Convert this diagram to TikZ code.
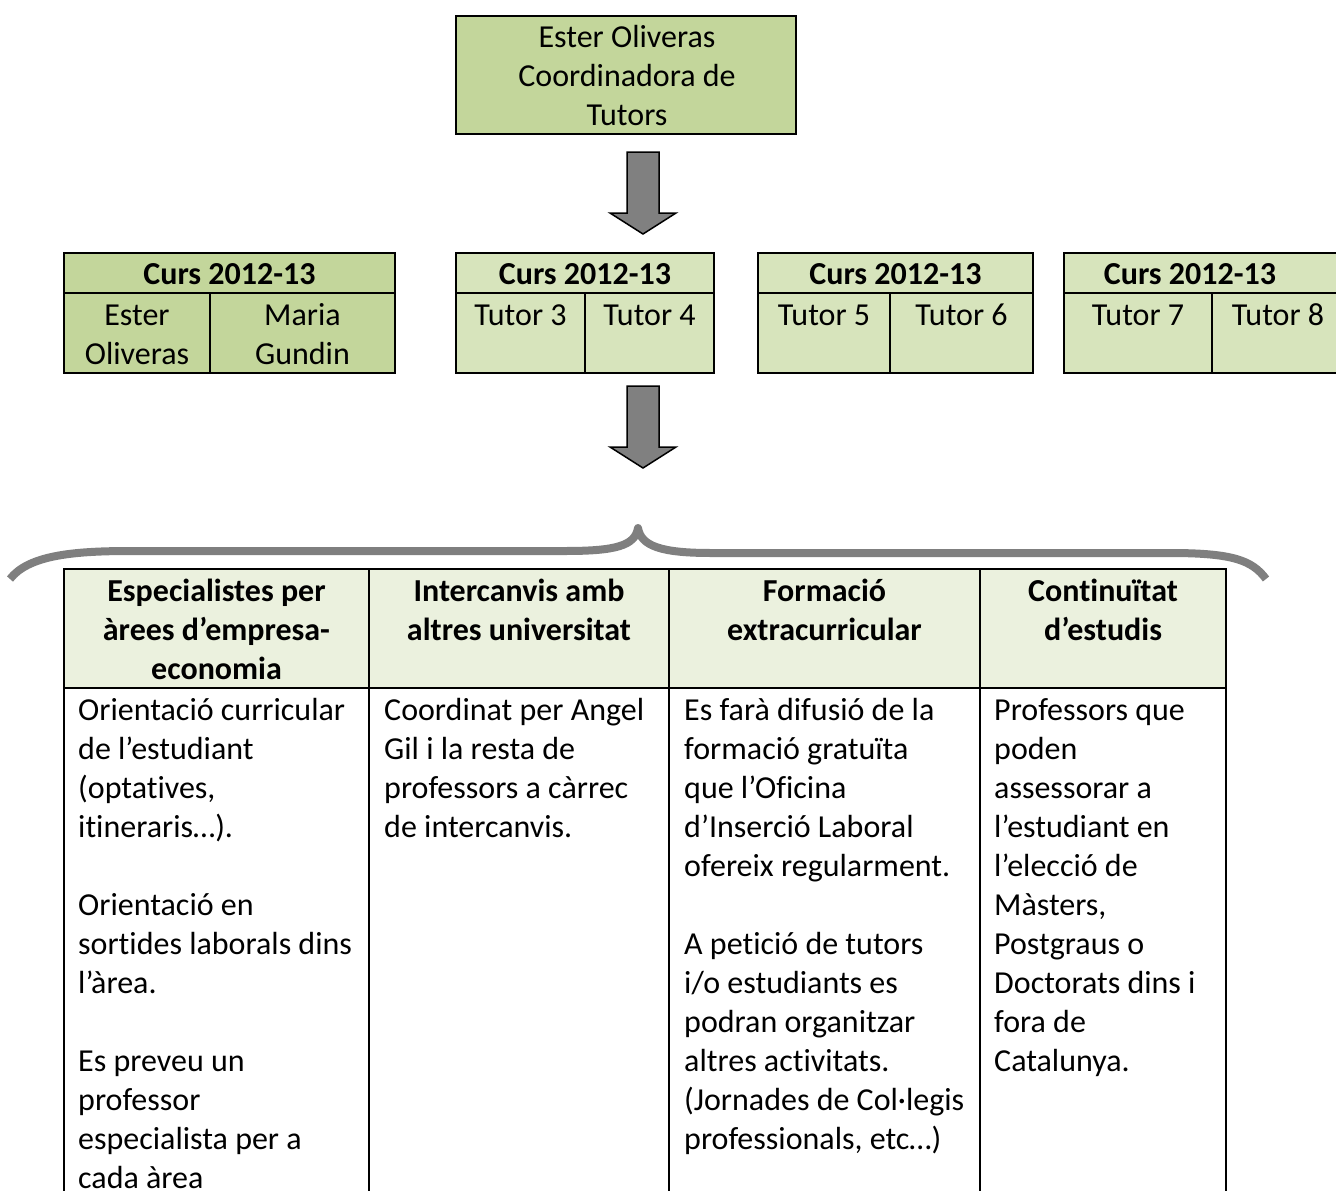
\documentclass[tikz,border=0pt]{standalone}
\usepackage{fontspec}
\setmainfont[Ligatures=NoCommon]{Carlito}
\definecolor{gA}{HTML}{C3D69B}
\definecolor{gB}{HTML}{D7E4BC}
\definecolor{gC}{HTML}{EBF1DE}
\definecolor{arrowgray}{HTML}{808080}
\definecolor{bracegray}{HTML}{7F7F7F}
\begin{document}
\begin{tikzpicture}[x=1pt,y=-1pt,
  box/.style={draw=black, line width=2pt},
  txt/.style={inner sep=0pt, anchor=base, font=\fontsize{32}{39}\selectfont},
  txtb/.style={inner sep=0pt, anchor=base, font=\fontsize{32}{39}\selectfont\bfseries},
  txtl/.style={inner sep=0pt, anchor=base west, font=\fontsize{32}{39}\selectfont},
  blockarrow/.style={fill=arrowgray, draw=black, line width=1.5pt, line join=miter},
  brace/.style={draw=bracegray, line width=8pt, line join=round}
  ]
\useasboundingbox (0,0) rectangle (1336,1191);

% top box
\draw[box, fill=gA] (456,16) rectangle (796,134);
\node[txt] (top1) at (627,47.5) {Ester Oliveras};
\node[txt] (top2) at (627,86.5) {Coordinadora de};
\node[txt] (top3) at (627,125.5) {Tutors};

% arrow 1
\draw[blockarrow] (627,152) -- (659,152) -- (659,213) -- (676,213) -- (643,234) -- (610,213) -- (627,213) -- cycle;

% Curs box A
\draw[box, fill=gA] (64,253) rectangle (395,373);
\draw[box] (64,293) -- (395,293);
\draw[box] (210,293) -- (210,373);
\node[txtb] (ca) at (229.5,284.5) {Curs 2012-13};
\node[txt] (ca1) at (137,325.5) {Ester};
\node[txt] (ca2) at (137,364.5) {Oliveras};
\node[txt] (ca3) at (302.5,325.5) {Maria};
\node[txt] (ca4) at (302.5,364.5) {Gundin};

% Curs box B
\draw[box, fill=gB] (456,253) rectangle (714,373);
\draw[box] (456,293) -- (714,293);
\draw[box] (585,293) -- (585,373);
\node[txtb] (cb) at (585,284.5) {Curs 2012-13};
\node[txt] (cb1) at (520.5,325.5) {Tutor 3};
\node[txt] (cb2) at (649.5,325.5) {Tutor 4};

% Curs box C
\draw[box, fill=gB] (758,253) rectangle (1033,373);
\draw[box] (758,293) -- (1033,293);
\draw[box] (890,293) -- (890,373);
\node[txtb] (cc) at (895.5,284.5) {Curs 2012-13};
\node[txt] (cc1) at (824,325.5) {Tutor 5};
\node[txt] (cc2) at (961.5,325.5) {Tutor 6};

% Curs box D
\draw[box, fill=gB] (1064,253) rectangle (1344,373);
\draw[box] (1064,293) -- (1344,293);
\draw[box] (1212,293) -- (1212,373);
\node[txtb] (cd) at (1190,284.5) {Curs 2012-13};
\node[txt] (cd1) at (1138,325.5) {Tutor 7};
\node[txt] (cd2) at (1278,325.5) {Tutor 8};

% arrow 2
\draw[blockarrow] (627,386) -- (659,386) -- (659,447) -- (676,447) -- (643,468) -- (610,447) -- (627,447) -- cycle;

% brace
\draw[brace] (10,579) .. controls (28,556) and (70,551) .. (130,551) -- (565,551)
  .. controls (615,551) and (635,546) .. (638,528)
  .. controls (641,546) and (661,553) .. (711,553) -- (1170,553)
  .. controls (1232,553) and (1252,560) .. (1266,579);

% table
\fill[gC] (64,569) rectangle (1226,688);
\draw[box] (64,1195) -- (64,569) -- (1226,569) -- (1226,1195);
\draw[box] (64,688) -- (1226,688);
\draw[box] (369,569) -- (369,1195);
\draw[box] (669,569) -- (669,1195);
\draw[box] (980,569) -- (980,1195);

% headers
\node[txtb] (h1) at (216.5,601.5) {\parbox[t]{300pt}{\centering Especialistes per\\ àrees d’empresa-\\ economia}};
\node[txtb] (h2) at (519,601.5) {\parbox[t]{300pt}{\centering Intercanvis amb\\ altres universitat}};
\node[txtb] (h3) at (824.5,601.5) {\parbox[t]{300pt}{\centering Formació\\ extracurricular}};
\node[txtb] (h4) at (1103,601.5) {\parbox[t]{300pt}{\centering Continuïtat\\ d’estudis}};

% body
\node[txtl] (b1) at (78,720.5) {\parbox[t]{300pt}{\raggedright
Orientació curricular\\ de l’estudiant\\ (optatives,\\ itineraris…).\\[39pt]
Orientació en\\ sortides laborals dins\\ l’àrea.\\[39pt]
Es preveu un\\ professor\\ especialista per a\\ cada àrea}};
\node[txtl] (b2) at (384,720.5) {\parbox[t]{300pt}{\raggedright
Coordinat per Angel\\ Gil i la resta de\\ professors a càrrec\\ de intercanvis.}};
\node[txtl] (b3) at (684,720.5) {\parbox[t]{300pt}{\raggedright
Es farà difusió de la\\ formació gratuïta\\ que l’Oficina\\ d’Inserció Laboral\\ ofereix regularment.\\[39pt]
A petició de tutors\\ i/o estudiants es\\ podran organitzar\\ altres activitats.\\ (Jornades de Col·legis\\ professionals, etc…)}};
\node[txtl] (b4) at (994,720.5) {\parbox[t]{300pt}{\raggedright
Professors que\\ poden\\ assessorar a\\ l’estudiant en\\ l’elecció de\\ Màsters,\\ Postgraus o\\ Doctorats dins i\\ fora de\\ Catalunya.}};
\end{tikzpicture}
\end{document}
